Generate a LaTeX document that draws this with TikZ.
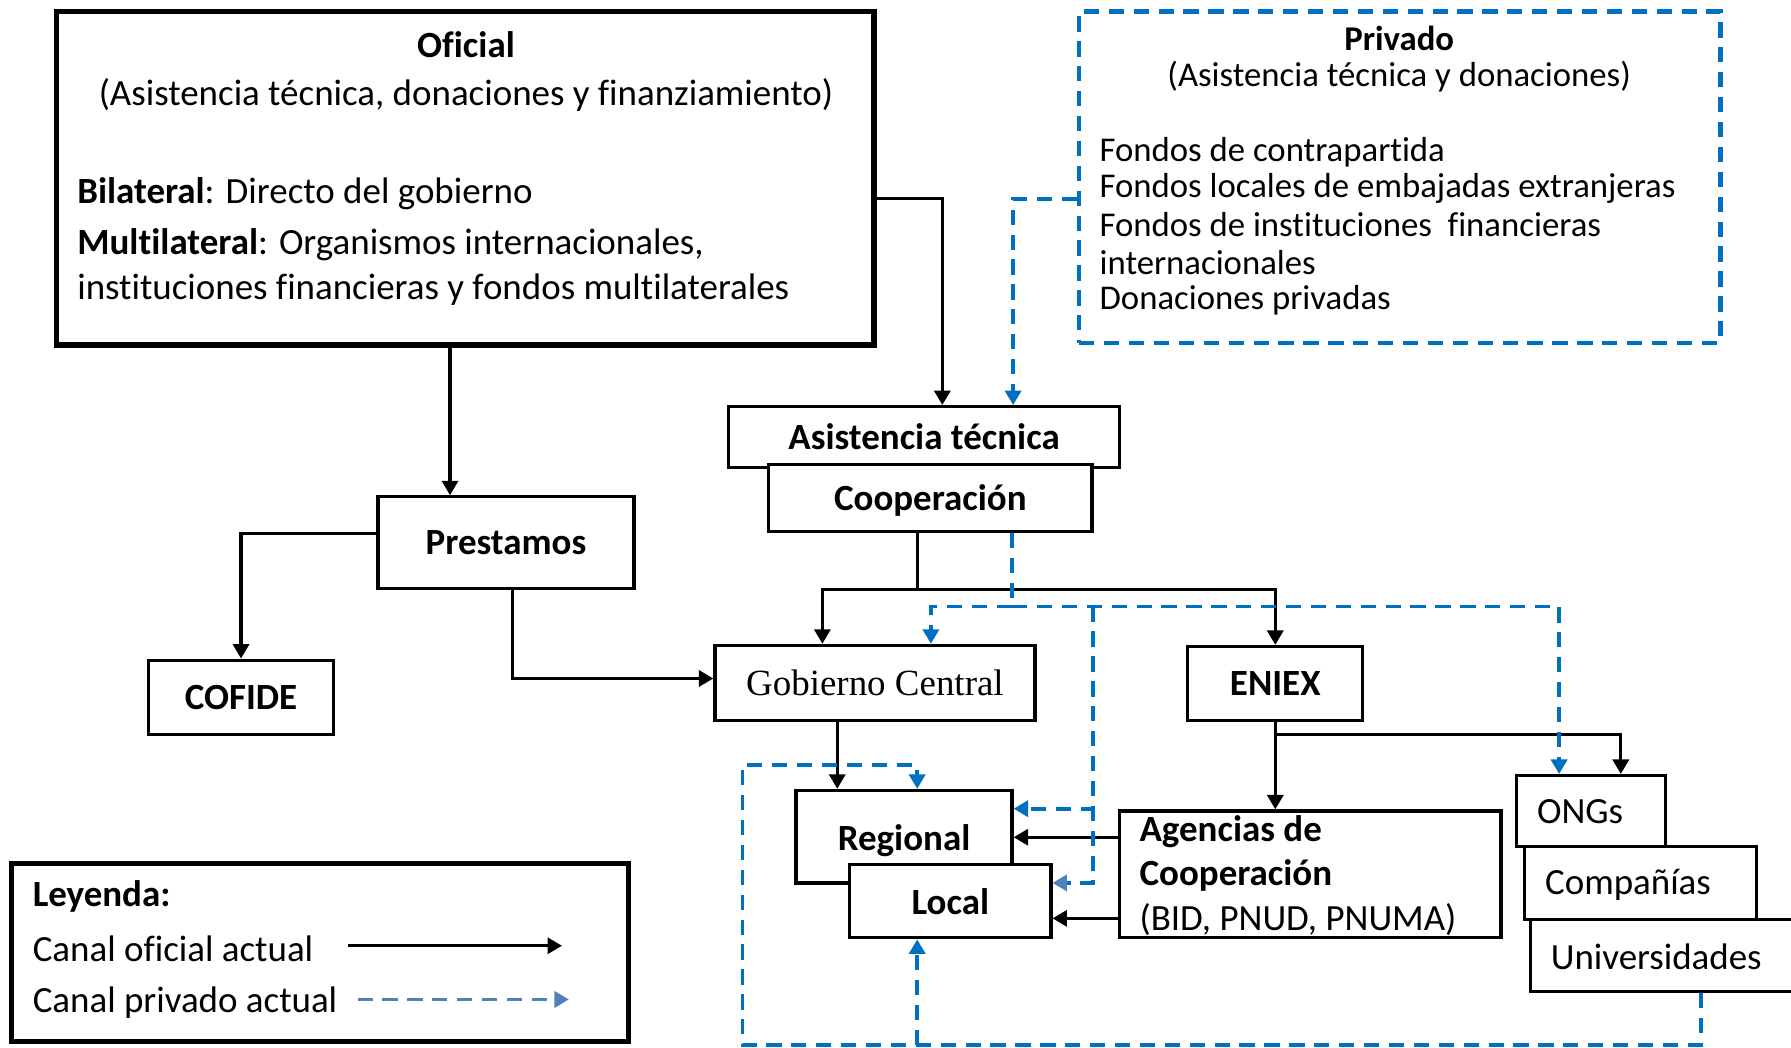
\documentclass[tikz,border=0pt]{standalone}
\usepackage{fontspec}
\setmainfont{Carlito}[Ligatures=NoCommon]
\newfontfamily\timesfont{Liberation Serif}
\usetikzlibrary{arrows.meta}

\definecolor{pvblue}{HTML}{0070C0}
\definecolor{lgblue}{HTML}{4F81BD}

\tikzset{
    every node/.style={font=\fontsize{9.2}{11}\selectfont, inner sep=0pt},
    box/.style={draw, line width=0.8pt, fill=white, rectangle},
    bigbox/.style={draw, line width=1.3pt, rectangle},
    txt/.style={anchor=west},
    ofl/.style={line width=0.8pt, -{Triangle[length=3.6pt,width=4pt]}},
    pvdash/.style={pvblue, line width=0.9pt, dash pattern=on 3.8pt off 2.4pt},
    pvl/.style={pvdash, -{Triangle[length=3.6pt,width=4pt]}},
    pvll/.style={pvdash, -{Triangle[length=3.6pt,width=4pt,lgblue]}},
}

\begin{document}
\begin{tikzpicture}[x=0.01cm, y=-0.01cm]
    \useasboundingbox (0,0) rectangle (1568,917);
    \clip (0,0) rectangle (1568,917);

    % Sources
    \node[bigbox, minimum width=7.15cm, minimum height=2.92cm] (oficial) at (407.5,156) {};
    \node at (408,39) {\textbf{Oficial}};
    \node at (408,83) {(Asistencia técnica, donaciones y finanziamiento)};
    \node[txt] at (67,170) {\textbf{Bilateral}: Directo del gobierno};
    \node[txt] at (67,214) {\textbf{Multilateral}: Organismos internacionales,};
    \node[txt] at (67,254) {instituciones financieras y fondos multilaterales};

    \node[draw=pvblue, line width=1.1pt, dash pattern=on 3.8pt off 2.4pt,
          minimum width=5.61cm, minimum height=2.9cm] (privado) at (1225.5,155) {};
    \begin{scope}[every node/.style={font=\fontsize{8.65}{10}\selectfont, inner sep=0pt}]
        \node at (1225,34) {\textbf{Privado}};
        \node at (1225,67) {(Asistencia técnica y donaciones)};
        \foreach \y/\t in {133/Fondos de contrapartida,
                           165/Fondos locales de embajadas extranjeras,
                           197/Fondos de instituciones\ \ financieras,
                           230/internacionales,
                           263/Donaciones privadas} {
            \node[txt] at (962,\y) {\t};
        }
    \end{scope}

    % Channels
    \node[box, minimum width=3.42cm, minimum height=0.53cm] (asist) at (809,382.5) {\textbf{Asistencia técnica}};
    \node[box, minimum width=2.83cm, minimum height=0.58cm] (coop) at (814.5,436) {};
    \node at (814.5,438) {\textbf{Cooperación}};
    \node[box, minimum width=2.24cm, minimum height=0.8cm] (prest) at (443,475) {\textbf{Prestamos}};
    \node[box, minimum width=1.62cm, minimum height=0.65cm] (cofide) at (211,610.5) {\textbf{COFIDE}};
    \node[box, minimum width=2.8cm, minimum height=0.66cm] (gob) at (766,598) {\timesfont Gobierno Central};
    \node[box, minimum width=1.53cm, minimum height=0.65cm] (eniex) at (1116.5,598.5) {\textbf{ENIEX}};
    \node[box, minimum width=1.89cm, minimum height=0.81cm] (regional) at (791.5,732.5) {};
    \node at (791.5,736) {\textbf{Regional}};
    \node[box, minimum width=1.76cm, minimum height=0.64cm] (local) at (832,789) {\textbf{Local}};
    \node[box, minimum width=3.34cm, minimum height=1.11cm] (agencias) at (1147,765.5) {};
    \node[txt] at (997,728) {\textbf{Agencias de}};
    \node[txt] at (997,766) {\textbf{Cooperación}};
    \node[txt] at (997,805) {(BID, PNUD, PNUMA)};

    % Receivers
    \node[box, minimum width=1.3cm, minimum height=0.62cm] (ongs) at (1393,710) {};
    \node[box, minimum width=2.03cm, minimum height=0.64cm] (compan) at (1436.5,773) {};
    \node[box, minimum width=2.8cm, minimum height=0.63cm] (univ) at (1480,836.5) {};
    \node[txt] at (1345,711) {ONGs};
    \node[txt] at (1352,775) {Compañías};
    \node[txt] at (1357,838) {Universidades};

    % Official channel
    \draw[ofl] (oficial.east |- 0,174) -| (asist.north -| 825,0);
    \draw[ofl] (oficial.south -| 394,0) -- (prest.north -| 394,0);
    \draw[ofl] (prest.west |- 0,467) -| (cofide.north);
    \draw[ofl] (prest.south -| 449,0) |- (gob.west |- 0,594);
    \coordinate (cj) at (803,516);
    \draw[line width=0.8pt] (coop.south -| cj) -- (cj);
    \draw[ofl] (cj) -| (gob.north -| 720,0);
    \draw[ofl] (cj) -| (eniex.north);
    \draw[ofl] (gob.south -| 733,0) -- (regional.north -| 733,0);
    \draw[ofl] (eniex.south) -- (agencias.north -| eniex.south);
    \draw[ofl] (eniex.south |- 0,643) -| (ongs.north -| 1419,0);
    \draw[ofl] (agencias.west |- 0,733) -- (regional.east |- 0,733);
    \draw[ofl] (agencias.west |- 0,804) -- (local.east |- 0,804);

    % Private channel
    \draw[pvl] (privado.west |- 0,174) -| (asist.north -| 887,0);
    \coordinate (pj) at (886,531);
    \draw[pvdash] (coop.south -| pj) -- (pj);
    \draw[pvl] (pj) -| (gob.north -| 815,0);
    \draw[pvl] (pj) -| (ongs.north -| 1365,0);
    \coordinate (pv) at (957,531);
    \draw[pvl] (pv) |- (regional.east |- 0,708);
    \draw[pvll] (pv) |- (local.east |- 0,773);
    \draw[pvl] (univ.south -| 1489,0) |- (650,915) |- (803,670) -- (regional.north -| 803,0);
    \coordinate (pb) at (803,915);
    \draw[pvl] (pb) -- (local.south -| pb);

    % Legend
    \node[bigbox, minimum width=5.4cm, minimum height=1.56cm] (leyenda) at (280,834) {};
    \node[txt] at (28,785) {\textbf{Leyenda:}};
    \node[txt] at (28,831) {Canal oficial actual};
    \node[txt] at (28,878) {Canal privado actual};
    \coordinate (lo1) at (305,828);
    \coordinate (lo2) at (492,828);
    \coordinate (lp1) at (313,875);
    \coordinate (lp2) at (498,875);
    \draw[ofl] (lo1) -- (lo2);
    \draw[lgblue, line width=0.9pt, dash pattern=on 3.8pt off 2.4pt, -{Triangle[length=3.6pt,width=4pt]}] (lp1) -- (lp2);
\end{tikzpicture}
\end{document}
